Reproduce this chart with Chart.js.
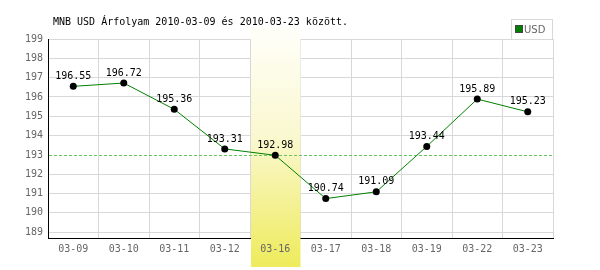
<!DOCTYPE html>
<html lang="hu">
<head>
<meta charset="UTF-8">
<title>MNB USD árfolyam</title>
<style>
  body { margin: 0; background: #fff; }
  #wrap { width: 600px; height: 270px; }
</style>
</head>
<body>
<div id="wrap"><canvas id="chartUsd" width="600" height="270"></canvas></div>

<script src="https://cdn.jsdelivr.net/npm/chart.js"></script>
<script>
const napok = ['03-09', '03-10', '03-11', '03-12', '03-16', '03-17', '03-18', '03-19', '03-22', '03-23'];
const arfolyam = [196.55, 196.72, 195.36, 193.31, 192.98, 190.74, 191.09, 193.44, 195.89, 195.23];
const yTicks = [189, 190, 191, 192, 193, 194, 195, 196, 197, 198, 199];
const kiemeltNap = '03-16';
const referencia = 193;
const cim = 'MNB USD Árfolyam 2010-03-09 és 2010-03-23 között.';
const mono = '"DejaVu Sans Mono", monospace';

function savGradient(ctx) {
    const g = ctx.createLinearGradient(0, 27, 0, 267);
    g.addColorStop(0, 'rgba(255,255,250,1)');
    g.addColorStop(0.45, '#faf8d0');
    g.addColorStop(1, '#eeeb5c');
    return g;
}

function savX(chart) {
    const x = chart.scales.x;
    const i = napok.indexOf(kiemeltNap);
    const w = x.width / napok.length;
    return [x.getPixelForValue(i) - w / 2, w];
}

const rajzolo = {
    id: 'rajzolo',
    beforeDraw(chart) {
        const ctx = chart.ctx;
        const [bx, bw] = savX(chart);
        ctx.save();
        ctx.fillStyle = savGradient(ctx);
        ctx.fillRect(bx + 1, chart.chartArea.bottom, bw - 1, 267 - chart.chartArea.bottom);
        ctx.restore();
    },
    beforeDatasetsDraw(chart) {
        const ctx = chart.ctx;
        const area = chart.chartArea;
        const [bx, bw] = savX(chart);
        ctx.save();
        ctx.fillStyle = savGradient(ctx);
        ctx.fillRect(bx + 1, 27, bw - 1, area.bottom + 1 - 27);
        // szaggatott referencia vonal (a rács helyett)
        const ry = Math.round(chart.scales.y.getPixelForValue(referencia)) + 0.5;
        ctx.strokeStyle = '#66c466';
        ctx.lineWidth = 1;
        ctx.setLineDash([3, 2]);
        ctx.beginPath();
        ctx.moveTo(area.left + 1, ry);
        ctx.lineTo(area.right, ry);
        ctx.stroke();
        ctx.restore();
    },
    afterDatasetsDraw(chart) {
        const ctx = chart.ctx;
        const meta = chart.getDatasetMeta(0);
        ctx.save();
        ctx.font = '10px ' + mono;
        ctx.fillStyle = '#000';
        ctx.textAlign = 'center';
        ctx.textBaseline = 'middle';
        meta.data.forEach((p, i) => {
            ctx.fillText(arfolyam[i].toFixed(2), p.x, p.y - 10);
        });
        // cím
        ctx.textAlign = 'left';
        ctx.fillText(cim, 53, 22);
        // jelmagyarázat
        ctx.strokeStyle = '#d8d8d8';
        ctx.lineWidth = 1;
        ctx.strokeRect(511.5, 19.5, 41, 20);
        ctx.fillStyle = '#008000';
        ctx.fillRect(516, 26, 6, 6);
        ctx.strokeStyle = '#444';
        ctx.strokeRect(515.5, 25.5, 7, 7);
        ctx.fillStyle = '#666';
        ctx.font = '10px "DejaVu Sans", sans-serif';
        ctx.fillText('USD', 524, 30);
        ctx.restore();
    }
};

new Chart(document.getElementById('chartUsd'), {
    type: 'line',
    data: {
        labels: napok,
        datasets: [{
            label: 'USD',
            data: arfolyam,
            borderColor: '#008000',
            borderWidth: 1,
            tension: 0,
            pointRadius: 3.5,
            pointBackgroundColor: '#000',
            pointBorderColor: '#000',
            pointBorderWidth: 0
        }]
    },
    options: {
        responsive: false,
        animation: false,
        events: [],
        layout: { padding: { top: 39, right: 47, left: 0, bottom: 0 } },
        plugins: {
            legend: { display: false },
            title: { display: false },
            tooltip: { enabled: false }
        },
        scales: {
            x: {
                offset: true,
                grid: { offset: true, color: '#d8d8d8', drawTicks: false },
                border: { color: '#000', width: 1 },
                ticks: { color: '#666', font: { family: mono, size: 10 }, padding: 5 },
                afterFit(s) { s.height = 32; }
            },
            y: {
                min: 188.7,
                max: 199,
                grid: {
                    color: c => (c.tick && c.tick.value === referencia ? 'rgba(0,0,0,0)' : '#d8d8d8'),
                    drawTicks: false
                },
                border: { color: '#000', width: 1 },
                ticks: { color: '#666', font: { family: mono, size: 10 }, padding: 5 },
                afterBuildTicks(s) { s.ticks = yTicks.map(v => ({ value: v })); },
                afterFit(s) { s.width = 48; }
            }
        }
    },
    plugins: [rajzolo]
});
</script>
</body>
</html>
